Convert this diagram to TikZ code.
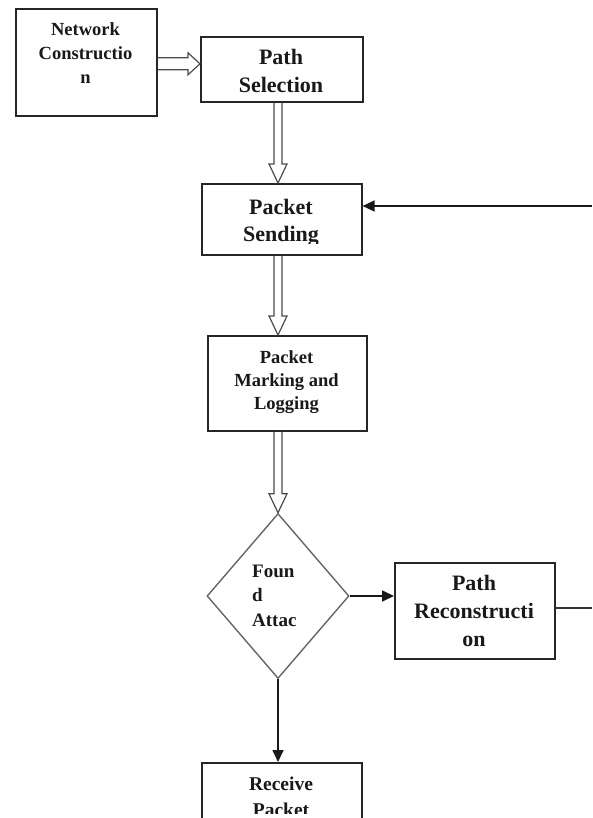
\documentclass[tikz,border=0pt]{standalone}
\usepackage{fontspec}
\setmainfont{Liberation Serif}
\usetikzlibrary{arrows.meta,calc,shapes.geometric}
\newcommand\hollowv[2]{%
  \draw[hollow] ($(#1)+(-4,0)$) -- ($(#2)+(-4,-19)$) -- ($(#2)+(-9,-19)$) -- (#2)
    -- ($(#2)+(9,-19)$) -- ($(#2)+(4,-19)$) -- ($(#1)+(4,0)$);}
\begin{document}
\begin{tikzpicture}[x=1pt,y=-1pt,
  box/.style={draw=black!85, line width=1.6pt, rectangle, inner sep=0pt, anchor=north west},
  dia/.style={draw=black!60, line width=1.4pt, diamond, inner sep=0pt, aspect=0.86},
  txt/.style={font=\bfseries, align=center, inner sep=0pt, anchor=base, text=black!90},
  hollow/.style={draw=black!70, line width=1.2pt, line join=miter},
  farrow/.style={draw=black!90, line width=1.6pt, -{Triangle[length=12pt,width=11pt]}},
  fline/.style={draw=black!80, line width=1.5pt}]
\clip (0,0) rectangle (592,818);
\fill[white] (0,0) rectangle (592,818);

% boxes
\node[box, minimum width=141, minimum height=107] (nc) at (15,8) {};
\node[box, minimum width=162, minimum height=65] (ps) at (200,36) {};
\node[box, minimum width=160, minimum height=71] (pk) at (201,183) {};
\node[box, minimum width=159, minimum height=95] (pm) at (207,335) {};
\node[dia, minimum width=142, minimum height=165] (d) at (278,596) {};
\node[box, minimum width=160, minimum height=96] (pr) at (394,562) {};
\node[box, minimum width=160, minimum height=80] (rp) at (201,762) {};

% texts (anchor base = baseline of last line)
\node[txt, font=\bfseries\fontsize{18.5}{24}\selectfont] (tnc) at (85.5,84) {Network\\Constructio\\n};
\begin{scope}
  \clip (ps.north west) rectangle ($(ps.south east)+(0,-9.5)$);
  \node[txt, font=\bfseries\fontsize{22}{27.5}\selectfont] (tps) at (281,92.5) {Path\\Selection};
\end{scope}
\begin{scope}
  \clip (pk.north west) rectangle ($(pk.south east)+(0,-12)$);
  \node[txt, font=\bfseries\fontsize{22}{27.5}\selectfont] (tpk) at (281,241.5) {Packet\\Sending};
\end{scope}
\node[txt, font=\bfseries\fontsize{18.5}{23}\selectfont] (tpm) at (286.5,409) {Packet\\Marking and\\Logging};
\node[txt, align=left, anchor=base west, font=\bfseries\fontsize{19}{24.5}\selectfont] (td) at (252,626) {Foun\\d\\Attac};
\node[txt, font=\bfseries\fontsize{22}{28}\selectfont] (tpr) at (474,646) {Path\\Reconstructi\\on};
\begin{scope}
  \clip (rp.north west) rectangle (361,813);
  \node[txt, font=\bfseries\fontsize{19.5}{26}\selectfont] (trp) at (281,816) {Receive\\Packet};
\end{scope}

% hollow arrows
\coordinate (h1) at ($(nc.east)+(0,1.5)$);
\coordinate (h2) at (h1 -| ps.west);
\draw[hollow] ($(h1)+(0,-6)$) -- ($(h2)+(-12,-6)$) -- ($(h2)+(-12,-11)$) -- (h2)
  -- ($(h2)+(-12,11)$) -- ($(h2)+(-12,6)$) -- ($(h1)+(0,6)$);
\coordinate (v1s) at (ps.south -| d.north);
\coordinate (v1e) at (pk.north -| d.north);
\hollowv{v1s}{v1e}
\coordinate (v2s) at (pk.south -| d.north);
\coordinate (v2e) at (pm.north -| d.north);
\hollowv{v2s}{v2e}
\coordinate (v3s) at (pm.south -| d.north);
\hollowv{v3s}{d.north}

% filled arrows and lines
\draw[farrow] (d.east) -- (d.east -| pr.west);
\draw[farrow] (d.south) -- (d.south |- rp.north);
\coordinate (fbR) at (592,206);
\draw[farrow] (fbR) -- (fbR -| pk.east);
\coordinate (prR) at (592,608);
\draw[fline] (prR -| pr.east) -- (prR);
\end{tikzpicture}
\end{document}
